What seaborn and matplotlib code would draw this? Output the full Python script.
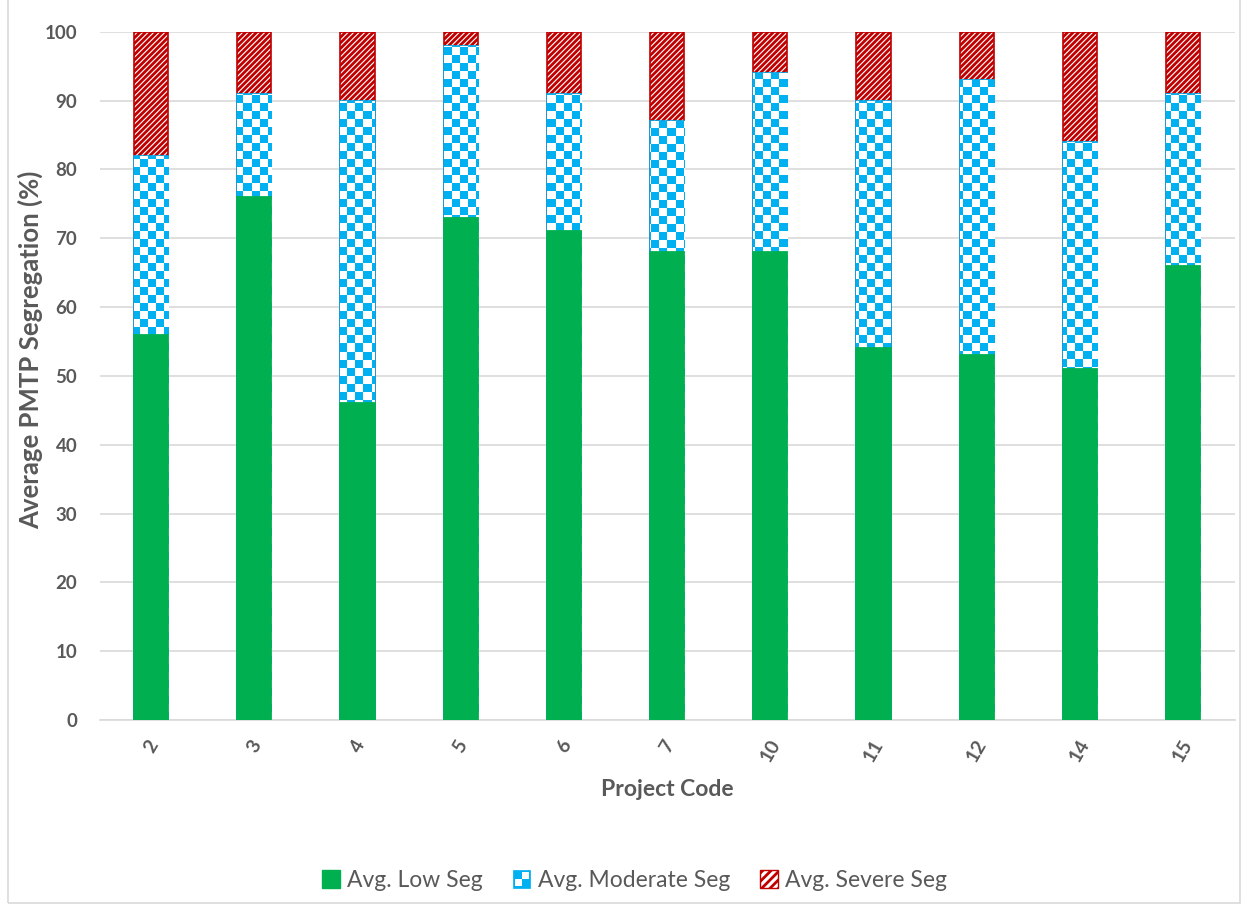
import numpy as np
import pandas as pd
import matplotlib
matplotlib.use('Agg')
import matplotlib.pyplot as plt
import seaborn as sns
from matplotlib.colors import ListedColormap
from matplotlib.patches import Patch, Rectangle
from matplotlib.legend_handler import HandlerBase

projects = ['2', '3', '4', '5', '6', '7', '10', '11', '12', '14', '15']
low_seg = [56, 76, 46, 73, 71, 68, 68, 54, 53, 51, 66]
moderate_seg = [26, 15, 44, 25, 20, 19, 26, 36, 40, 33, 25]
severe_seg = [18, 9, 10, 2, 9, 13, 6, 10, 7, 16, 9]

GREEN = '#00B050'
BLUE = '#00B0F0'
RED = '#C00000'
GREY = '#595959'

df = pd.DataFrame({'Project': projects, 'Low': low_seg,
                   'Moderate': moderate_seg, 'Severe': severe_seg})
df['LowMod'] = df['Low'] + df['Moderate']
df['Total'] = df['LowMod'] + df['Severe']

sns.set_style('white')
plt.rcParams['font.family'] = ['Lato', 'DejaVu Sans']
plt.rcParams['hatch.color'] = RED
plt.rcParams['hatch.linewidth'] = 2.0

fig = plt.figure(figsize=(12.44, 9.07), dpi=100)
ax = fig.add_axes([0.08, 0.206, 0.9125, 0.759])

# severe layer (top of stack)
sns.barplot(data=df, x='Project', y='Total', color='white', width=0.33,
            saturation=1, ax=ax, zorder=2)
for p in ax.containers[-1]:
    p.set_facecolor('white')
    p.set_edgecolor(RED)
    p.set_hatch('//////')
    p.set_linewidth(1.2)

# moderate layer with a checkerboard fill
sns.barplot(data=df, x='Project', y='LowMod', color='white', width=0.33,
            saturation=1, ax=ax, zorder=3)
checker = np.indices((86, 142)).sum(axis=0) % 2
cmap = ListedColormap(['white', BLUE])
for p in ax.containers[-1]:
    p.set_facecolor('white')
    p.set_edgecolor(BLUE)
    p.set_linewidth(1.2)
    im = ax.imshow(checker, cmap=cmap, extent=(0, 1, 0, 1), transform=ax.transAxes,
                   aspect='auto', interpolation='nearest', zorder=3.5)
    im.set_clip_path(p)

# low layer
sns.barplot(data=df, x='Project', y='Low', color=GREEN, width=0.33,
            saturation=1, ax=ax, zorder=4, linewidth=1.3, edgecolor=GREEN)

ax.set_xlim(-0.5, len(projects) - 0.5)
ax.set_ylim(0, 100)
ax.set_yticks(range(0, 101, 10))
ax.yaxis.grid(True, color='#D9D9D9', linewidth=1.2)
ax.set_axisbelow(True)
for s in ['top', 'right', 'left']:
    ax.spines[s].set_visible(False)
ax.spines['bottom'].set_color('#D9D9D9')
ax.spines['bottom'].set_linewidth(1.2)

ax.tick_params(axis='y', length=0, pad=16, labelsize=13.5, labelcolor=GREY)
ax.tick_params(axis='x', length=0, pad=12, labelsize=14, labelcolor=GREY)
for t in ax.get_yticklabels() + ax.get_xticklabels():
    t.set_fontweight('bold')
plt.setp(ax.get_xticklabels(), rotation=60, ha='center')

ax.set_xlabel('Project Code', fontsize=16.5, fontweight='bold', color=GREY, labelpad=10)
ax.set_ylabel('Average PMTP Segregation (%)', fontsize=18.5, fontweight='bold',
              color=GREY)
ax.yaxis.set_label_coords(-0.05, 0.538)


class CheckerHandler(HandlerBase):
    def create_artists(self, legend, orig_handle, xdescent, ydescent,
                       width, height, fontsize, trans):
        s = min(width, height)
        x0 = -xdescent + (width - s) / 2
        y0 = -ydescent + (height - s) / 2
        arts = [Rectangle((x0, y0), s, s, facecolor=BLUE, edgecolor=BLUE, lw=0.5,
                          transform=trans)]
        h = s / 2
        arts.append(Rectangle((x0 + h, y0 + h), h * 0.8, h * 0.8, facecolor='white',
                              edgecolor='none', transform=trans))
        arts.append(Rectangle((x0 + h * 0.2, y0 + h * 0.2), h * 0.8, h * 0.8,
                              facecolor='white', edgecolor='none', transform=trans))
        return arts


h_low = Patch(facecolor=GREEN, edgecolor=GREEN)
h_mod = Patch(facecolor=BLUE)
h_sev = Patch(facecolor='white', edgecolor=RED, hatch='////')
fig.legend([h_low, h_mod, h_sev], ['Avg. Low Seg', 'Avg. Moderate Seg', 'Avg. Severe Seg'],
           handler_map={h_mod: CheckerHandler()}, loc='center',
           bbox_to_anchor=(0.51, 0.029), ncol=3, frameon=False, fontsize=16.5,
           labelcolor=GREY, handlelength=0.8, handleheight=0.8, handletextpad=0.3,
           columnspacing=1.3)

fig.patches.append(Rectangle((0.0065, 0.004), 0.99, 1.1, transform=fig.transFigure,
                             fill=False, edgecolor='#D9D9D9', linewidth=1.2))

fig.savefig('out.png', dpi=100)
